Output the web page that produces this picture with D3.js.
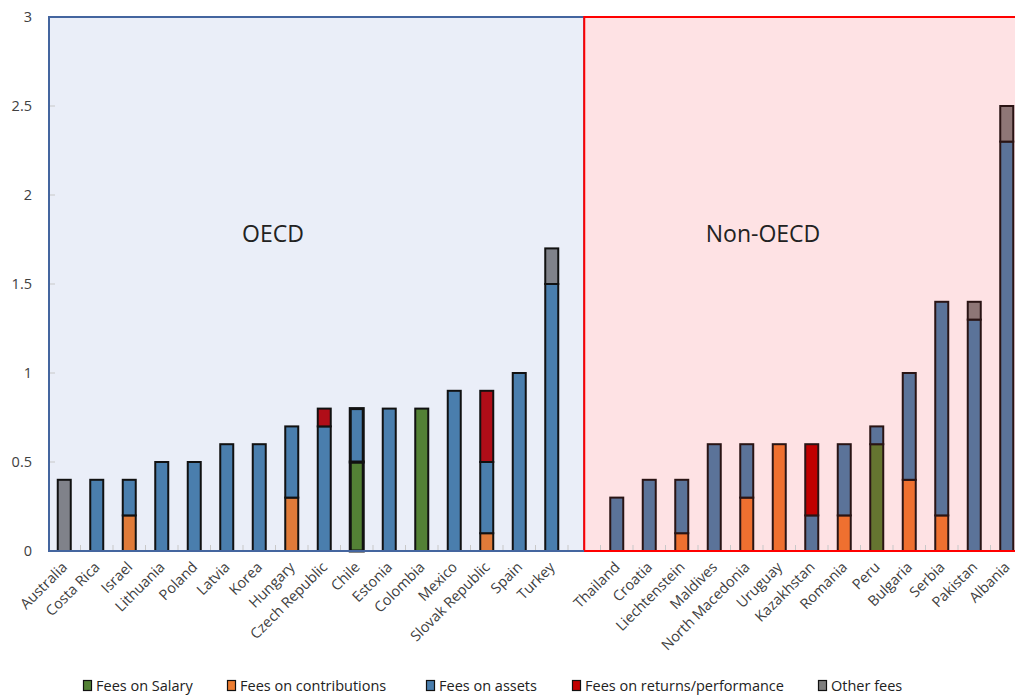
<!DOCTYPE html>
<html><head><meta charset="utf-8">
<script src="https://cdn.jsdelivr.net/npm/d3@7"></script>
<style>body{margin:0;background:#fff}svg{display:block}</style>
</head><body>
<script>
const seriesNames = ["Fees on Salary","Fees on contributions","Fees on assets","Fees on returns/performance","Other fees"];
const oecdCountries = ["Australia","Costa Rica","Israel","Lithuania","Poland","Latvia","Korea","Hungary","Czech Republic","Chile","Estonia","Colombia","Mexico","Slovak Republic","Spain","Turkey"];
const oecdSalary =   [0,0,0,0,0,0,0,0,0,0.5,0,0.8,0,0,0,0];
const oecdContrib =  [0,0,0.2,0,0,0,0,0.3,0,0,0,0,0,0.1,0,0];
const oecdAssets =   [0,0.4,0.2,0.5,0.5,0.6,0.6,0.4,0.7,0.3,0.8,0,0.9,0.4,1.0,1.5];
const oecdReturns =  [0,0,0,0,0,0,0,0,0.1,0,0,0,0,0.4,0,0];
const oecdOther =    [0.4,0,0,0,0,0,0,0,0,0,0,0,0,0,0,0.2];
const nonCountries = ["Thailand","Croatia","Liechtenstein","Maldives","North Macedonia","Uruguay","Kazakhstan","Romania","Peru","Bulgaria","Serbia","Pakistan","Albania"];
const nonSalary =    [0,0,0,0,0,0,0,0,0.6,0,0,0,0];
const nonContrib =   [0,0,0.1,0,0.3,0.6,0,0.2,0,0.4,0.2,0,0];
const nonAssets =    [0.3,0.4,0.3,0.6,0.3,0,0.2,0.4,0.1,0.6,1.2,1.3,2.3];
const nonReturns =   [0,0,0,0,0,0,0.4,0,0,0,0,0,0];
const nonOther =     [0,0,0,0,0,0,0,0,0,0,0,0.1,0.2];
const yTicks = [0,0.5,1,1.5,2,2.5,3];
const groupLabels = ["OECD","Non-OECD"];

const oecdColors = ["#538135","#e07b39","#4a7ead","#b00d18","#80828a"];
const nonColors  = ["#657530","#ef7030","#5b7399","#c00000","#8e7676"];
const legendColors = ["#538135","#ed7d31","#4a7ead","#c00000","#7f7f7f"];

const W=1015,H=696;
const svg=d3.select("body").append("svg").attr("width",W).attr("height",H);
const allCats = [...oecdCountries, "__gap__", ...nonCountries];
const x = d3.scaleBand().domain(allCats).range([48,1023]).paddingInner(0.6).paddingOuter(0.3);
const y = d3.scaleLinear().domain([0,3]).range([551,17]);

// panels
const gapX = x("__gap__") + x.bandwidth()/2;
svg.append("rect").attr("x",49).attr("y",y(3)).attr("width",gapX-49).attr("height",y(0)-y(3))
  .attr("fill","#eaeef8").attr("stroke","#44659f").attr("stroke-width",2);
svg.append("rect").attr("x",gapX).attr("y",y(3)).attr("width",1030-gapX).attr("height",y(0)-y(3))
  .attr("fill","#fee2e4").attr("stroke","#ff0000").attr("stroke-width",2);

// x tick marks at band boundaries
allCats.forEach((c,i)=>{
  if(i===0) return;
  const bx = x(c) - x.step()*x.paddingInner()/2;
  svg.append("line").attr("x1",bx).attr("x2",bx).attr("y1",y(0)-6).attr("y2",y(0)-1)
    .attr("stroke","#c8c8c8").attr("stroke-width",1);
});

// y axis labels
const yAxis = svg.append("g").attr("transform","translate(49,0)")
  .call(d3.axisLeft(y).tickValues(yTicks).tickSize(0).tickPadding(17).tickFormat(d3.format("")));
yAxis.select(".domain").remove();
yAxis.selectAll("text").attr("font-family","'Open Sans',sans-serif").attr("font-size",14.5).attr("fill","#404040");
yTicks.forEach(t=>{ if(t>0&&t<3) svg.append("line").attr("x1",50).attr("x2",55).attr("y1",y(t)).attr("y2",y(t)).attr("stroke","#c8c8c8"); });

// bars
function drawGroup(cats, arrs, colors, stroke){
  const rows = cats.map((c,i)=>{const o={country:c}; seriesNames.forEach((s,k)=>o[s]=arrs[k][i]); return o;});
  const stacked = d3.stack().keys(seriesNames)(rows);
  stacked.forEach((layer,k)=>{
    svg.append("g").selectAll("rect").data(layer.filter(d=>d[1]-d[0]>0)).join("rect")
      .attr("x",d=>x(d.data.country)).attr("width",x.bandwidth())
      .attr("y",d=>y(d[1])).attr("height",d=>y(d[0])-y(d[1]))
      .attr("fill",colors[k]).attr("stroke",stroke)
      .attr("stroke-width",d=>d.data.country==="Chile"?3:2);
  });
}
drawGroup(oecdCountries,[oecdSalary,oecdContrib,oecdAssets,oecdReturns,oecdOther],oecdColors,"#111");
drawGroup(nonCountries,[nonSalary,nonContrib,nonAssets,nonReturns,nonOther],nonColors,"#2a1414");

// bottom axis lines
svg.append("line").attr("x1",49).attr("x2",gapX).attr("y1",y(0)).attr("y2",y(0)).attr("stroke","#44659f").attr("stroke-width",2);
svg.append("line").attr("x1",gapX).attr("x2",1015).attr("y1",y(0)).attr("y2",y(0)).attr("stroke","#ff0000").attr("stroke-width",2);

// x labels
const xAxis = svg.append("g").attr("transform",`translate(0,${y(0)})`)
  .call(d3.axisBottom(x).tickValues([...oecdCountries,...nonCountries]).tickSize(0).tickPadding(0));
xAxis.select(".domain").remove();
xAxis.selectAll("text").attr("font-family","'Open Sans',sans-serif").attr("font-size",14.5).attr("fill","#404040")
  .attr("text-anchor","end").attr("dy",0).attr("transform","translate(4,17) rotate(-45)");

// group labels
svg.append("text").attr("x",273).attr("y",242).attr("text-anchor","middle").attr("font-family","'Open Sans',sans-serif")
  .attr("font-size",23).attr("fill","#222").text(groupLabels[0]);
svg.append("text").attr("x",763).attr("y",242).attr("text-anchor","middle").attr("font-family","'Open Sans',sans-serif")
  .attr("font-size",23).attr("fill","#222").text(groupLabels[1]);

// legend
const legX = [83,227,426,572,818];
const leg = svg.append("g");
seriesNames.forEach((s,i)=>{
  leg.append("rect").attr("x",legX[i]+0.5).attr("y",680.5).attr("width",8).attr("height",10)
    .attr("fill",legendColors[i]).attr("stroke","#111").attr("stroke-width",1.2);
  leg.append("text").attr("x",legX[i]+13).attr("y",691).attr("font-family","'Open Sans',sans-serif")
    .attr("font-size",14.5).attr("fill","#222").text(s);
});
</script>
</body></html>
